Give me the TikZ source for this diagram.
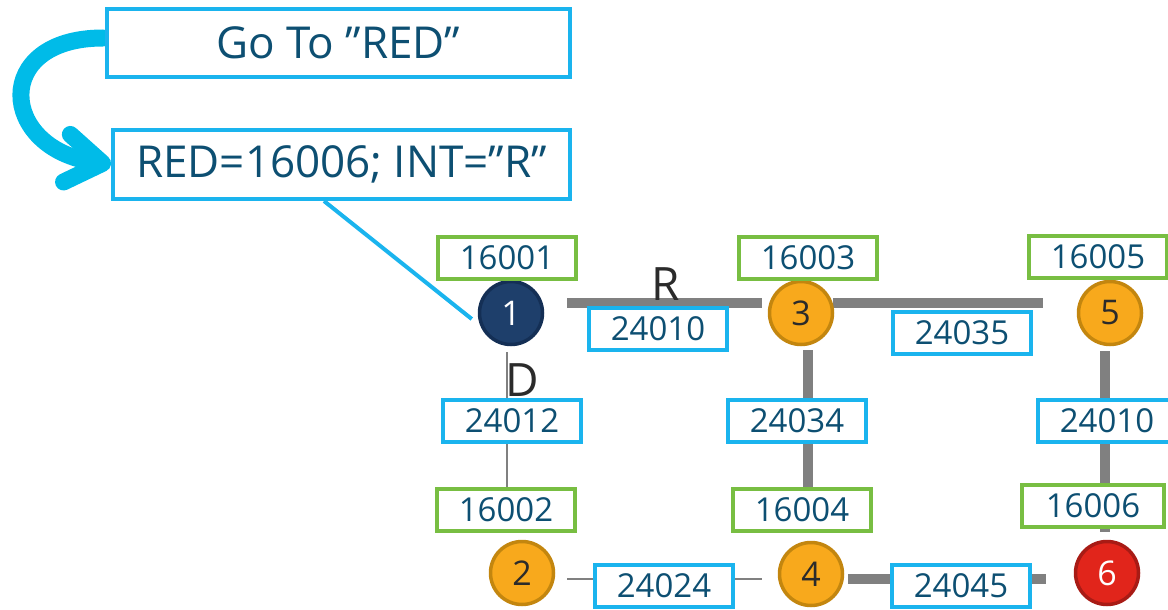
\documentclass[tikz,border=0pt]{standalone}
\usepackage{xcolor}
\usepackage{fontspec}
\setmainfont{Open Sans}
\usepackage{tikz}
\usetikzlibrary{arrows.meta,calc,backgrounds}
\definecolor{yaziMavi}{HTML}{0D4F72}
\definecolor{cerceveMavi}{HTML}{1AB4EE}
\definecolor{etiketYesil}{HTML}{78BE42}
\definecolor{hatGri}{HTML}{808080}
\definecolor{harfGri}{HTML}{2B2B2B}
\definecolor{okMavi}{HTML}{00BBE8}
\definecolor{turuncu}{HTML}{F8A91C}
\definecolor{turuncuKenar}{HTML}{C3860F}
\definecolor{lacivert}{HTML}{1E3F6B}
\definecolor{lacivertKenar}{HTML}{142F55}
\definecolor{kirmizi}{HTML}{E1251B}
\definecolor{kirmiziKenar}{HTML}{A81B15}

\begin{document}
\begin{tikzpicture}[x=0.5pt,y=-0.5pt,
  dugum/.style={circle,minimum size=31.5pt,inner sep=0pt,line width=1.75pt,font=\fontsize{17}{20}\selectfont},
  sari/.style={dugum,fill=turuncu,draw=turuncuKenar,text=harfGri},
  koyu/.style={dugum,fill=lacivert,draw=lacivertKenar,text=white},
  hedef/.style={dugum,fill=kirmizi,draw=kirmiziKenar,text=white},
  sid/.style={draw=etiketYesil,fill=white,line width=2pt,minimum width=69pt,minimum height=21pt,inner sep=0pt,text=yaziMavi,font=\fontsize{16.5}{20}\selectfont},
  adj/.style={sid,draw=cerceveMavi},
  kutu/.style={draw=cerceveMavi,fill=white,line width=2pt,inner sep=0pt,text=yaziMavi,font=\fontsize{22}{26}\selectfont},
  kalin/.style={draw=hatGri,line width=5pt},
  ince/.style={draw=hatGri,line width=1pt},
  harf/.style={text=harfGri,inner sep=0pt,font=\fontsize{23}{26}\selectfont}]
\useasboundingbox (0,0) rectangle (1168,610);
\clip (0,0) rectangle (1168,610);

\node[kutu,minimum width=231.5pt,minimum height=34pt] (goto) at (338.5,43) {Go To ”RED”};
\node[kutu,minimum width=228.5pt,minimum height=34.5pt] (intbox) at (341.5,164.5) {RED=16006; INT=”R”};

\node[koyu] (n1) at (511,313) {1};
\node[sari] (n3) at (801,313) {3};
\node[sari] (n5) at (1110,313) {5};
\node[sari] (n2) at (522,573) {2};
\node[sari] (n4) at (811,574) {4};
\node[hedef] (n6) at (1107,573) {6};

\node[sid] (s1) at (507,258) {16001};
\node[sid] (s3) at (808,258) {16003};
\node[sid] (s5) at (1098,257) {16005};
\node[sid] (s2) at (506,510) {16002};
\node[sid] (s4) at (802,510) {16004};
\node[sid,minimum width=71pt] (s6) at (1093,506) {16006};

\node[adj] (a13) at (658,329) {24010};
\node[adj] (a35) at (962,333) {24035};
\node[adj] (a12) at (512,421) {24012};
\node[adj] (a34) at (797,421) {24034};
\node[adj] (a56) at (1107,421) {24010};
\node[adj] (a24) at (664,586) {24024};
\node[adj] (a46) at (961,586) {24045};

\node[harf] (harfR) at (666,284) {R};
\node[harf] (harfD) at (522,380) {D};

\begin{scope}[on background layer]
\draw[okMavi,line width=8.5pt,line cap=round,-{Straight Barb[length=18pt,width=24pt,round]}]
  ($(goto.west)+(-1pt,2.5pt)$) .. controls +(-56pt,0pt) and +(-56pt,8pt) .. (intbox.west);
\draw[cerceveMavi,line width=2pt] ($(intbox.south)+(-8.75pt,0pt)$) -- ($(n1.west)+(-3pt,-3pt)$);

\draw[kalin] ($(n1.east)+(11.5pt,5pt)$) -- ($(n3.west)+(-3pt,5pt)$);
\draw[kalin] ($(n3.east)+(-0.5pt,5pt)$) -- ($(n5.west)+(-17pt,5pt)$);
\draw[ince] ($(n1.south)+(-2pt,-3pt)$) -- ($(n1.south |- s2.center)+(-2pt,0pt)$);
\draw[kalin] ($(n3.south)+(3.5pt,-2pt)$) -- ($(n3.south |- s4.center)+(3.5pt,0pt)$);
\draw[kalin] ($(n5.south)+(-2.5pt,-2.5pt)$) -- ($(n5.south |- s6.south)+(-2.5pt,-1.5pt)$);
\draw[ince] ($(n2.east)+(6pt,-3pt)$) -- ($(n4.west)+(-8pt,-2.5pt)$);
\draw[kalin] ($(n4.east)+(2pt,-2.5pt)$) -- ($(n6.west)+(-14pt,-3pt)$);
\end{scope}
\end{tikzpicture}
\end{document}
